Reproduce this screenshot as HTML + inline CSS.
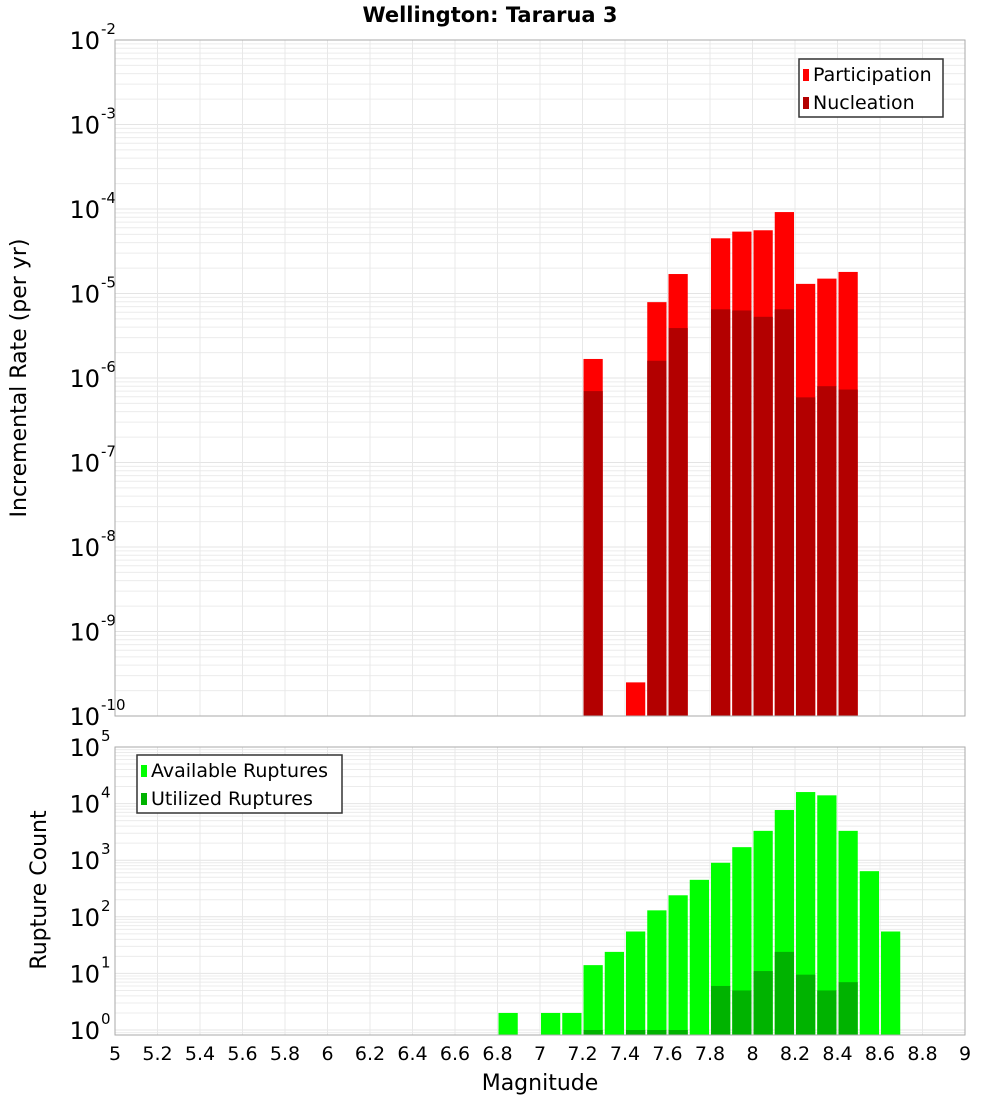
<!DOCTYPE html>
<html><head><meta charset="utf-8"><style>
body{margin:0;background:#fff;font-family:"DejaVu Sans","Liberation Sans",sans-serif}
svg text{font-family:"DejaVu Sans","Liberation Sans",sans-serif}
</style></head><body>
<svg id="c" width="1000" height="1100" xmlns="http://www.w3.org/2000/svg">
<text x="490" y="22" text-anchor="middle" font-size="21" font-weight="bold">Wellington: Tararua 3</text>
<text transform="translate(26,378) rotate(-90)" text-anchor="middle" font-size="22">Incremental Rate (per yr)</text>
<text transform="translate(46,890) rotate(-90)" text-anchor="middle" font-size="22">Rupture Count</text>
<text x="540" y="1090" text-anchor="middle" font-size="22">Magnitude</text>
<g id="top"></g><g id="bot"></g>
</svg>
<script>
const mags=[6.8,6.9,7.0,7.1,7.2,7.3,7.4,7.5,7.6,7.7,7.8,7.9,8.0,8.1,8.2,8.3,8.4,8.5,8.6];
const partRate=[0,0,0,0,1.68e-6,0,2.5e-10,7.9e-6,1.7e-5,0,4.5e-5,5.4e-5,5.6e-5,9.2e-5,1.3e-5,1.5e-5,1.8e-5,0,0];
const nuclRate=[0,0,0,0,7e-7,0,0,1.6e-6,3.9e-6,0,6.5e-6,6.3e-6,5.3e-6,6.5e-6,5.9e-7,8e-7,7.3e-7,0,0];
const availCount=[2,0,2,2,14,24,55,130,240,450,900,1700,3300,7700,16000,14000,3300,640,55];
const usedCount=[0,0,0,0,1,0,1,1,1,0,6,5,11,24,9.5,5,7,0,0];
const xTicks=["5","5.2","5.4","5.6","5.8","6","6.2","6.4","6.6","6.8","7","7.2","7.4","7.6","7.8","8","8.2","8.4","8.6","8.8","9"];
const topExps=[-2,-3,-4,-5,-6,-7,-8,-9,-10];
const botExps=[5,4,3,2,1,0];
const NS="http://www.w3.org/2000/svg";
const X0=115,X1=965;
const xs=m=>X0+(m-5)/4*(X1-X0);
function mk(p,t,a){const e=document.createElementNS(NS,t);for(const k in a)e.setAttribute(k,a[k]);p.appendChild(e);return e;}
function panel(g,top,bot,yTopExp,yAtTopPx,pxPerDec,exps){
  const ys=v=>yAtTopPx+(yTopExp-Math.log10(v))*pxPerDec;
  const bg=mk(g,'rect',{x:X0,y:top,width:X1-X0,height:bot-top,fill:'#fff'});
  
  for(let e=yTopExp;e>yTopExp-12;e--){for(let k=1;k<10;k++){const y=ys(k*Math.pow(10,e-1));if(y>top&&y<bot){const l=mk(g,'line',{x1:X0,x2:X1,y1:y,y2:y,stroke:k==1?'#e4e4e4':'#ececec','stroke-width':1});}}}
  xTicks.forEach(t=>{const x=xs(+t);const l=mk(g,'line',{x1:x,x2:x,y1:top,y2:bot,stroke:'#e8e8e8'});});
  exps.forEach(e=>{const y=ys(Math.pow(10,e));const t=mk(g,'text',{x:100,y:y+9,'text-anchor':'end','font-size':24});
    t.textContent='10';const s=mk(g,'text',{x:101,y:y-6,'font-size':15});s.textContent=String(e);});
  return ys;
}
const gt=document.getElementById('top'),gb=document.getElementById('bot');
const ysT=panel(gt,40,716,-2,40,84.5,topExps);
function bars(g,ys,vals,color,name,bot){vals.forEach((v,i)=>{if(v<=0)return;const x=xs(mags[i])+1;const y=Math.max(ys(v),0);const r=mk(g,'rect',{x:x,y:y,width:xs(mags[i]+0.1)-xs(mags[i])-2,height:bot-y,fill:color});});}
bars(gt,ysT,partRate,'#ff0000','participation-bar',716);
bars(gt,ysT,nuclRate,'#b30000','nucleation-bar',716);
mk(gt,'rect',{x:X0,y:40,width:X1-X0,height:676,fill:'none',stroke:'#aaa'});
const ysB=panel(gb,747,1035,5,747,56.6,botExps);
bars(gb,ysB,availCount,'#00ff00','available-bar',1035);
bars(gb,ysB,usedCount,'#00b300','utilized-bar',1035);
mk(gb,'rect',{x:X0,y:747,width:X1-X0,height:288,fill:'none',stroke:'#aaa'});
xTicks.forEach(t=>{const e=mk(gb,'text',{x:xs(+t),y:1060,'text-anchor':'middle','font-size':19});e.textContent=t;});
function legend(g,x,y,w,items){const b=mk(g,'rect',{x:x,y:y,width:w,height:58,fill:'#fff',stroke:'#333','stroke-width':1.5});
  items.forEach((it,i)=>{const cy=y+15+i*28;const s=mk(g,'rect',{x:x+4,y:cy-5,width:6,height:12,fill:it[1]});
  const t=mk(g,'text',{x:x+14,y:cy+7,'font-size':19});t.textContent=it[0];});}
legend(gt,799,59,144,[['Participation','#ff0000'],['Nucleation','#b30000']]);
legend(gb,137,755,205,[['Available Ruptures','#00ff00'],['Utilized Ruptures','#00b300']]);
</script>
</body></html>
